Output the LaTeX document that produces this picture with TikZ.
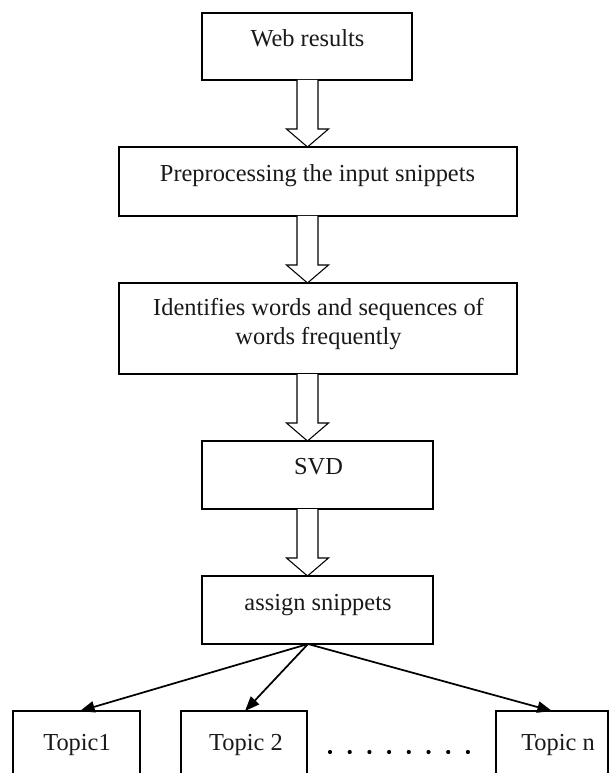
\documentclass[tikz,border=0pt]{standalone}
\usepackage{fontspec}
\setmainfont{Liberation Serif}
\usetikzlibrary{arrows.meta,calc}
\newcommand\blockarr[2]{\draw[barrow] let \p1=(#1), \p2=(#2) in
  (\x1-7.875pt,\y1) -- (\x1-7.875pt,\y2+13.5pt) -- (\x1-15.75pt,\y2+13.5pt) -- (\x2,\y2)
  -- (\x1+15.75pt,\y2+13.5pt) -- (\x1+7.875pt,\y2+13.5pt) -- (\x1+7.875pt,\y1);}
\begin{document}
\begin{tikzpicture}[x=0.75pt,y=-0.75pt,
  box/.style={draw,line width=0.85pt,inner sep=0pt,outer sep=0pt},
  txt/.style={anchor=base,inner sep=0pt,font=\fontsize{18.3pt}{22pt}\selectfont,text=black!90},
  barrow/.style={draw,fill=white,line width=0.8pt,line join=miter},
  fan/.style={draw,line width=1.3pt,-{Triangle[length=11pt,width=8.5pt]}}]
\useasboundingbox (0,0) rectangle (610,773);
\clip (0,0) rectangle (610,773);
\fill[white] (0,0) rectangle (610,773);
% boxes
\node[box,minimum width=157.5pt,minimum height=50.25pt] (web) at (307,46.5) {};
\node[box,minimum width=298.5pt,minimum height=51.75pt] (pre) at (318,181.5) {};
\node[box,minimum width=298.5pt,minimum height=68.25pt] (ident) at (318,328.5) {};
\node[box,minimum width=173.25pt,minimum height=51pt] (svd) at (317.5,475) {};
\node[box,minimum width=173.25pt,minimum height=51pt] (assign) at (317.5,610) {};
\node[box,minimum width=95.25pt,minimum height=66.75pt] (topic1) at (76.5,755.5) {};
\node[box,minimum width=94.5pt,minimum height=66.75pt] (topic2) at (244,755.5) {};
\node[box,minimum width=84pt,minimum height=66.75pt] (topicn) at (552,755.5) {};
% texts
\node[txt] (tweb) at (307.5,47) {Web results};
\node[txt] (tpre) at (317.5,182) {Preprocessing the input snippets};
\node[txt] (tid1) at (318.5,315) {Identifies words and sequences of};
\node[txt] (tid2) at (318.5,344) {words frequently};
\node[txt] (tsvd) at (318.5,474) {SVD};
\node[txt] (tassign) at (318,610) {assign snippets};
\node[txt] (tt1) at (77,750) {Topic1};
\node[txt] (tt2) at (246,750) {Topic 2};
\node[txt] (ttn) at (558,750) {Topic n};
% block arrows
\coordinate (ax) at (307.5,0);
\blockarr{web.south -| ax}{pre.north -| ax}
\blockarr{pre.south -| ax}{ident.north -| ax}
\blockarr{ident.south -| ax}{svd.north -| ax}
\blockarr{svd.south -| ax}{assign.north -| ax}
% fan arrows
\coordinate (o) at (308,644);
\draw[fan] (o) -- ($(topic1.north)+(3.5,0)$);
\draw[fan] (o) -- ($(topic2.north)+(1,0)$);
\draw[fan] (o) -- (topicn.north);
% dots
\foreach \k in {0,...,7}{\fill (330+19.7*\k,752) circle[radius=2.1];}
\end{tikzpicture}
\end{document}
